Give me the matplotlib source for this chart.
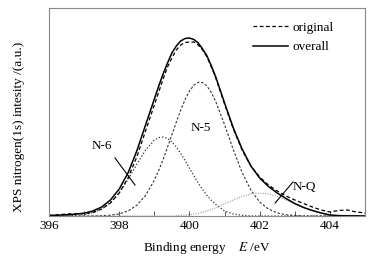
import matplotlib
matplotlib.use("Agg")
import matplotlib.pyplot as plt

plt.rcParams['font.family'] = ['Liberation Serif', 'DejaVu Serif']
plt.rcParams['mathtext.fontset'] = 'stix'

# --- Binding energy grid (eV) and curves ---
energy = [396.0, 396.25, 396.5, 396.75, 397.0, 397.25, 397.5, 397.75,
          398.0, 398.25, 398.5, 398.75, 399.0, 399.125, 399.25, 399.375,
          399.5, 399.625, 399.75, 399.875, 400.0, 400.125, 400.25, 400.375,
          400.5, 400.625, 400.75, 401.0, 401.25, 401.5, 401.75,
          402.0, 402.25, 402.5, 402.75, 403.0, 403.25, 403.5, 403.75,
          404.0, 404.25, 404.5, 404.75, 405.0]

original = [0.5, 1.2, 2.0, 2.2, 2.5, 3.5, 7, 13,
            23, 38, 59, 85, 111, 124, 137, 149,
            158, 166, 171, 173.5, 174, 174, 171, 166,
            159, 149, 138, 112, 87, 66, 50,
            39, 31, 25, 20, 16, 12.5, 9, 6,
            4, 5.5, 6, 4, 3]

overall = [0.5, 0.8, 1.2, 1.8, 2.8, 5, 9, 16,
           27, 43, 65, 91, 117, 130, 142, 153,
           163, 170, 175, 177.5, 178, 176.5, 173, 167,
           160, 150, 139, 113, 88, 67, 50,
           38, 29.5, 23, 17.5, 12.5, 8.5, 5.5, 3,
           1, 0.4, 0.2, 0.1, 0]

n5 = [0, 0, 0, 0, 0, 0.1, 0.3, 0.8,
      2.1, 5.0, 10.7, 20.5, 35.8, 45.6, 56.6, 68.7,
      81.3, 93.9, 105.8, 116.4, 124.9, 130.8, 133.7, 133.4,
      129.9, 123.4, 114.4, 91.4, 66.2, 43.5, 25.9,
      14.0, 6.9, 3.1, 1.2, 0.5, 0, 0, 0,
      0, 0, 0, 0, 0]

n6 = [0, 0, 0.1, 0.5, 1.4, 3.3, 7.0, 13.4,
      23.3, 36.5, 51.6, 65.9, 75.9, 78.4, 78.9, 77.5,
      74.1, 69.0, 62.7, 55.5, 47.9, 40.3, 33.0, 26.4,
      20.6, 15.6, 11.5, 5.0, 2.0, 0.6, 0.1,
      0, 0, 0, 0, 0, 0, 0, 0,
      0, 0, 0, 0, 0]

nq = [0, 0, 0, 0, 0, 0, 0, 0,
      0, 0, 0, 0, 0, 0, 0, 0,
      0, 0.3, 0.6, 0.9, 1.2, 1.9, 2.6, 3.8,
      5.0, 6.6, 8.2, 12.1, 16.0, 19.6, 22.1,
      23, 22.1, 19.6, 16.0, 12.1, 8.4, 5.4, 3.0,
      1.0, 0.3, 0, 0, 0]

fig = plt.figure(figsize=(3.88, 2.58), dpi=100)
ax = fig.add_axes([49 / 388, 42 / 258, 316 / 388, 208 / 258])

# --- component peaks ---
ax.plot(energy, n5, color='#333333', lw=0.8, linestyle=(0, (2.2, 1.6)))
ax.plot(energy, n6, color='#333333', lw=0.9, linestyle=(0, (1, 1.6)))
ax.plot(energy, nq, color='#999999', lw=0.8, linestyle=(0, (1, 1.2)))

# --- measured and fitted envelopes ---
ax.plot(energy, original, color='black', lw=0.9, linestyle=(0, (3, 2)), label='original')
ax.plot(energy, overall, color='black', lw=1.1, label='overall')

# peak labels with leader lines
ax.text(397.51, 70, 'N-6', fontsize=9.5, ha='center', va='center')
ax.plot([397.88, 398.45], [58, 31], color='black', lw=0.8)
ax.text(400.33, 88, 'N-5', fontsize=9.5, ha='center', va='center')
ax.text(403.26, 29, 'N-Q', fontsize=9.5, ha='center', va='center')
ax.plot([402.95, 402.44], [34, 13], color='black', lw=0.8)

ax.set_xlim(396, 405)
ax.set_ylim(0, 208)
ax.set_xticks([396, 398, 400, 402, 404])
ax.set_xticks([397, 399, 401, 403], minor=True)
ax.tick_params(axis='x', which='both', direction='in', length=3.5, width=0.7,
               color='#555555', labelsize=9.5, pad=3)
ax.set_yticks([])
for sp in ax.spines.values():
    sp.set_color('#888888')
    sp.set_linewidth(0.8)

ax.set_xlabel('Binding energy    $E$ /eV', fontsize=9.5, labelpad=6)
ax.set_ylabel('XPS nitrogen(1s) intesity /(a.u.)', fontsize=9.5)
ax.yaxis.set_label_coords(-0.075, 0.43)

ax.legend(loc='upper left', bbox_to_anchor=(0.615, 0.98), frameon=False,
          fontsize=9.5, handlelength=2.7, handletextpad=0.35,
          labelspacing=0.55, borderpad=0.2)

fig.savefig('out.png', dpi=100)
